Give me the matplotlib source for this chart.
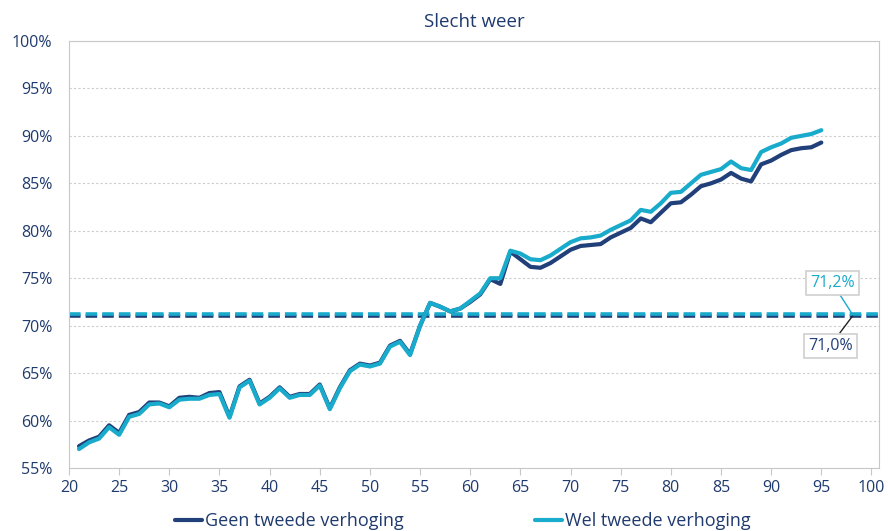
import matplotlib
matplotlib.use("Agg")
import matplotlib.pyplot as plt

plt.rcParams['font.family'] = ['Open Sans', 'DejaVu Sans']

# leeftijd en percentages
ages = list(range(21, 96))
geen = [57.3, 57.9, 58.3, 59.5, 58.7, 60.6, 60.9, 61.9, 61.9, 61.5,
        62.4, 62.5, 62.4, 62.9, 63.0, 60.4, 63.6, 64.3, 61.8, 62.5,
        63.5, 62.5, 62.8, 62.8, 63.8, 61.3, 63.5, 65.3, 66.0, 65.8,
        66.1, 67.9, 68.4, 67.0, 70.0, 72.4, 72.0, 71.5, 71.8, 72.5,
        73.3, 74.9, 74.4, 77.8, 77.0, 76.2, 76.1, 76.6, 77.3, 78.0,
        78.4, 78.5, 78.6, 79.3, 79.8, 80.3, 81.3, 80.9, 81.9, 82.9,
        83.0, 83.8, 84.7, 85.0, 85.4, 86.1, 85.5, 85.2, 87.0, 87.4,
        88.0, 88.5, 88.7, 88.8, 89.3]
wel = [57.0, 57.7, 58.1, 59.3, 58.5, 60.4, 60.7, 61.7, 61.8, 61.4,
       62.2, 62.3, 62.3, 62.7, 62.8, 60.3, 63.5, 64.2, 61.7, 62.4,
       63.4, 62.4, 62.7, 62.7, 63.7, 61.2, 63.4, 65.2, 65.9, 65.7,
       66.0, 67.8, 68.3, 66.9, 70.0, 72.4, 72.0, 71.5, 71.8, 72.6,
       73.4, 75.0, 75.0, 77.9, 77.6, 77.0, 76.9, 77.4, 78.1, 78.8,
       79.2, 79.3, 79.5, 80.1, 80.6, 81.1, 82.2, 82.0, 82.9, 84.0,
       84.1, 85.0, 85.9, 86.2, 86.5, 87.3, 86.6, 86.4, 88.3, 88.8,
       89.2, 89.8, 90.0, 90.2, 90.6]
gem_geen = 71.0
gem_wel = 71.2

dark = '#213f79'
cyan = '#19abcb'
navy = '#1f3a6e'

fig = plt.figure(figsize=(8.88, 5.31), dpi=100)
ax = fig.add_axes([69/888, 1-468/531, 810/888, 427/531])

ax.axhline(gem_geen, color=dark, lw=2.6, dashes=(3.2, 1.4))
ax.axhline(gem_wel, color=cyan, lw=2.6, dashes=(3.2, 1.4))
ax.plot(ages, geen, color=dark, lw=3, solid_joinstyle='round', solid_capstyle='round',
        label='Geen tweede verhoging')
ax.plot(ages, wel, color=cyan, lw=3, solid_joinstyle='round', solid_capstyle='round',
        label='Wel tweede verhoging')

ax.set_xlim(20, 100.75)
ax.set_ylim(55, 100)
ax.set_xticks(range(20, 101, 5))
ax.set_yticks(range(55, 101, 5))
ax.set_yticklabels([f'{v}%' for v in range(55, 101, 5)])
ax.grid(axis='y', color='#cccccc', ls=(0, (2, 2)), lw=0.8)
ax.set_axisbelow(True)
for s in ax.spines.values():
    s.set_color('#c8c8c8')
ax.tick_params(colors='#c8c8c8', labelcolor=navy, labelsize=11.5, length=5)
ax.tick_params(axis='y', length=0, pad=12)

ax.set_title('Slecht weer', color=navy, fontsize=13.5, pad=10)

box = dict(boxstyle='square,pad=0.25', fc='white', ec='#d0d0d0', lw=1.2)
ax.annotate('71,2%', xy=(98.1, gem_wel), xytext=(96.1, 74.5), color=cyan, fontsize=11.5,
            ha='center', va='center', bbox=box,
            arrowprops=dict(arrowstyle='-', color=cyan, lw=1, shrinkA=0, shrinkB=0))
ax.annotate('71,0%', xy=(98.1, gem_geen), xytext=(95.9, 67.9), color=dark, fontsize=11.5,
            ha='center', va='center', bbox=box,
            arrowprops=dict(arrowstyle='-', color='#222222', lw=1, shrinkA=0, shrinkB=0))

fig.legend(loc='center left', bbox_to_anchor=(166/888, 10/531), ncol=2, frameon=False,
           fontsize=13, handlelength=1.5, handletextpad=0.15, columnspacing=7.3,
           borderpad=0, labelcolor=navy)

fig.savefig('out.png', dpi=100)
